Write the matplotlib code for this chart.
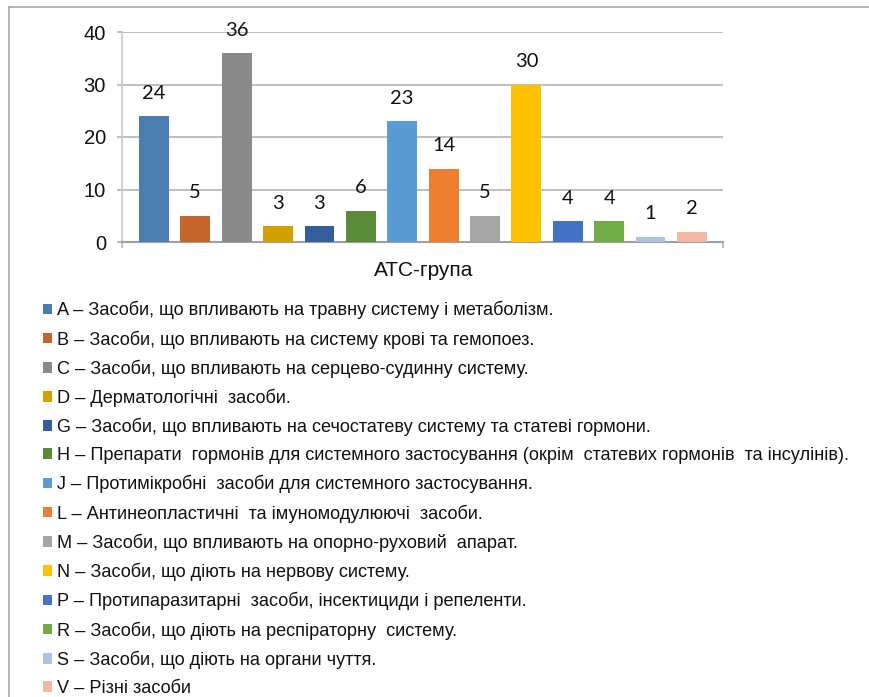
import matplotlib.pyplot as plt
from matplotlib.lines import Line2D

# =========================
# DATA
# =========================
codes = ["A", "B", "C", "D", "G", "H", "J", "L", "M", "N", "P", "R", "S", "V"]
counts = [24, 5, 36, 3, 3, 6, 23, 14, 5, 30, 4, 4, 1, 2]
descriptions = [
    "Засоби, що впливають на травну систему і метаболізм.",
    "Засоби, що впливають на систему крові та гемопоез.",
    "Засоби, що впливають на серцево-судинну систему.",
    "Дерматологічні  засоби.",
    "Засоби, що впливають на сечостатеву систему та статеві гормони.",
    "Препарати  гормонів для системного застосування (окрім  статевих гормонів  та інсулінів).",
    "Протимікробні  засоби для системного застосування.",
    "Антинеопластичні  та імуномодулюючі  засоби.",
    "Засоби, що впливають на опорно-руховий  апарат.",
    "Засоби, що діють на нервову систему.",
    "Протипаразитарні  засоби, інсектициди і репеленти.",
    "Засоби, що діють на респіраторну  систему.",
    "Засоби, що діють на органи чуття.",
    "Різні засоби",
]
colors = ["#4a7eb0", "#c4652b", "#8a8a8a", "#d4a000", "#345d9e", "#5a8b38", "#5b9bd5",
          "#ed7d31", "#a5a5a5", "#ffc000", "#4472c4", "#70ad47", "#a9c3e5", "#f3b8a2"]

xlabel = "АТС-група"

# =========================
# FIGURE
# =========================
W, H = 869, 697
fig = plt.figure(figsize=(W / 100, H / 100), dpi=100)
ax = fig.add_axes([122 / W, 1 - 242 / H, (723 - 122) / W, (242 - 32) / H])

grid_c = "#b4b4b4"
handles, labels = [], []
for i, (c, v, col) in enumerate(zip(codes, counts, colors)):
    b = ax.bar(i, v, width=0.72, color=col, zorder=3)
    handles.append(b[0])
    labels.append(f"{c} – {descriptions[i]}")
    ax.annotate(str(v), (i, v), xytext=(0, 16.5), textcoords="offset points",
                ha="center", va="center", fontsize=14.5, family="Lato",
                color="#111111")

ax.set_xlim(-0.77, 13.75)
ax.set_ylim(0, 40)
ax.set_yticks([0, 10, 20, 30, 40])
ax.yaxis.grid(True, color=grid_c, linewidth=1.2, zorder=0)
ax.tick_params(axis="y", length=3.6, width=1.2, color=grid_c, pad=8,
               labelsize=14.5, labelcolor="#111111")
for lab in ax.get_yticklabels():
    lab.set_family("Liberation Sans")

# category axis: only the two end ticks
ax.set_xticks([-0.77, 13.75])
ax.set_xticklabels([])
ax.tick_params(axis="x", length=4.5, width=1.2, color=grid_c)

for s in ["top", "right"]:
    ax.spines[s].set_visible(False)
ax.spines["left"].set_color("#c8c8c8")
ax.spines["bottom"].set_color("#a0a0a0")
ax.spines["left"].set_linewidth(1.2)
ax.spines["bottom"].set_linewidth(1.5)

fig.text(424 / W, 1 - 271 / H, xlabel, ha="center", va="center",
         fontsize=15, family="Liberation Sans", color="#111111")

# legend below the plot
leg = fig.legend(handles=handles, labels=labels, loc="upper left",
                 bbox_to_anchor=(43 / W, 1 - 301 / H), frameon=False,
                 prop={"family": "Liberation Sans", "size": 13.1},
                 handlelength=0.52, handleheight=0.52, handletextpad=0.25,
                 labelspacing=0.60, borderaxespad=0, borderpad=0)
for t in leg.get_texts():
    t.set_color("#111111")

# outer frame
fig.add_artist(Line2D([9 / W, 1], [1 - 7 / H, 1 - 7 / H], color="#a8a8a8",
                      linewidth=1.2, transform=fig.transFigure))
fig.add_artist(Line2D([9 / W, 9 / W], [0, 1 - 7 / H], color="#a8a8a8",
                      linewidth=1.2, transform=fig.transFigure))

fig.savefig("out.png", dpi=100)
